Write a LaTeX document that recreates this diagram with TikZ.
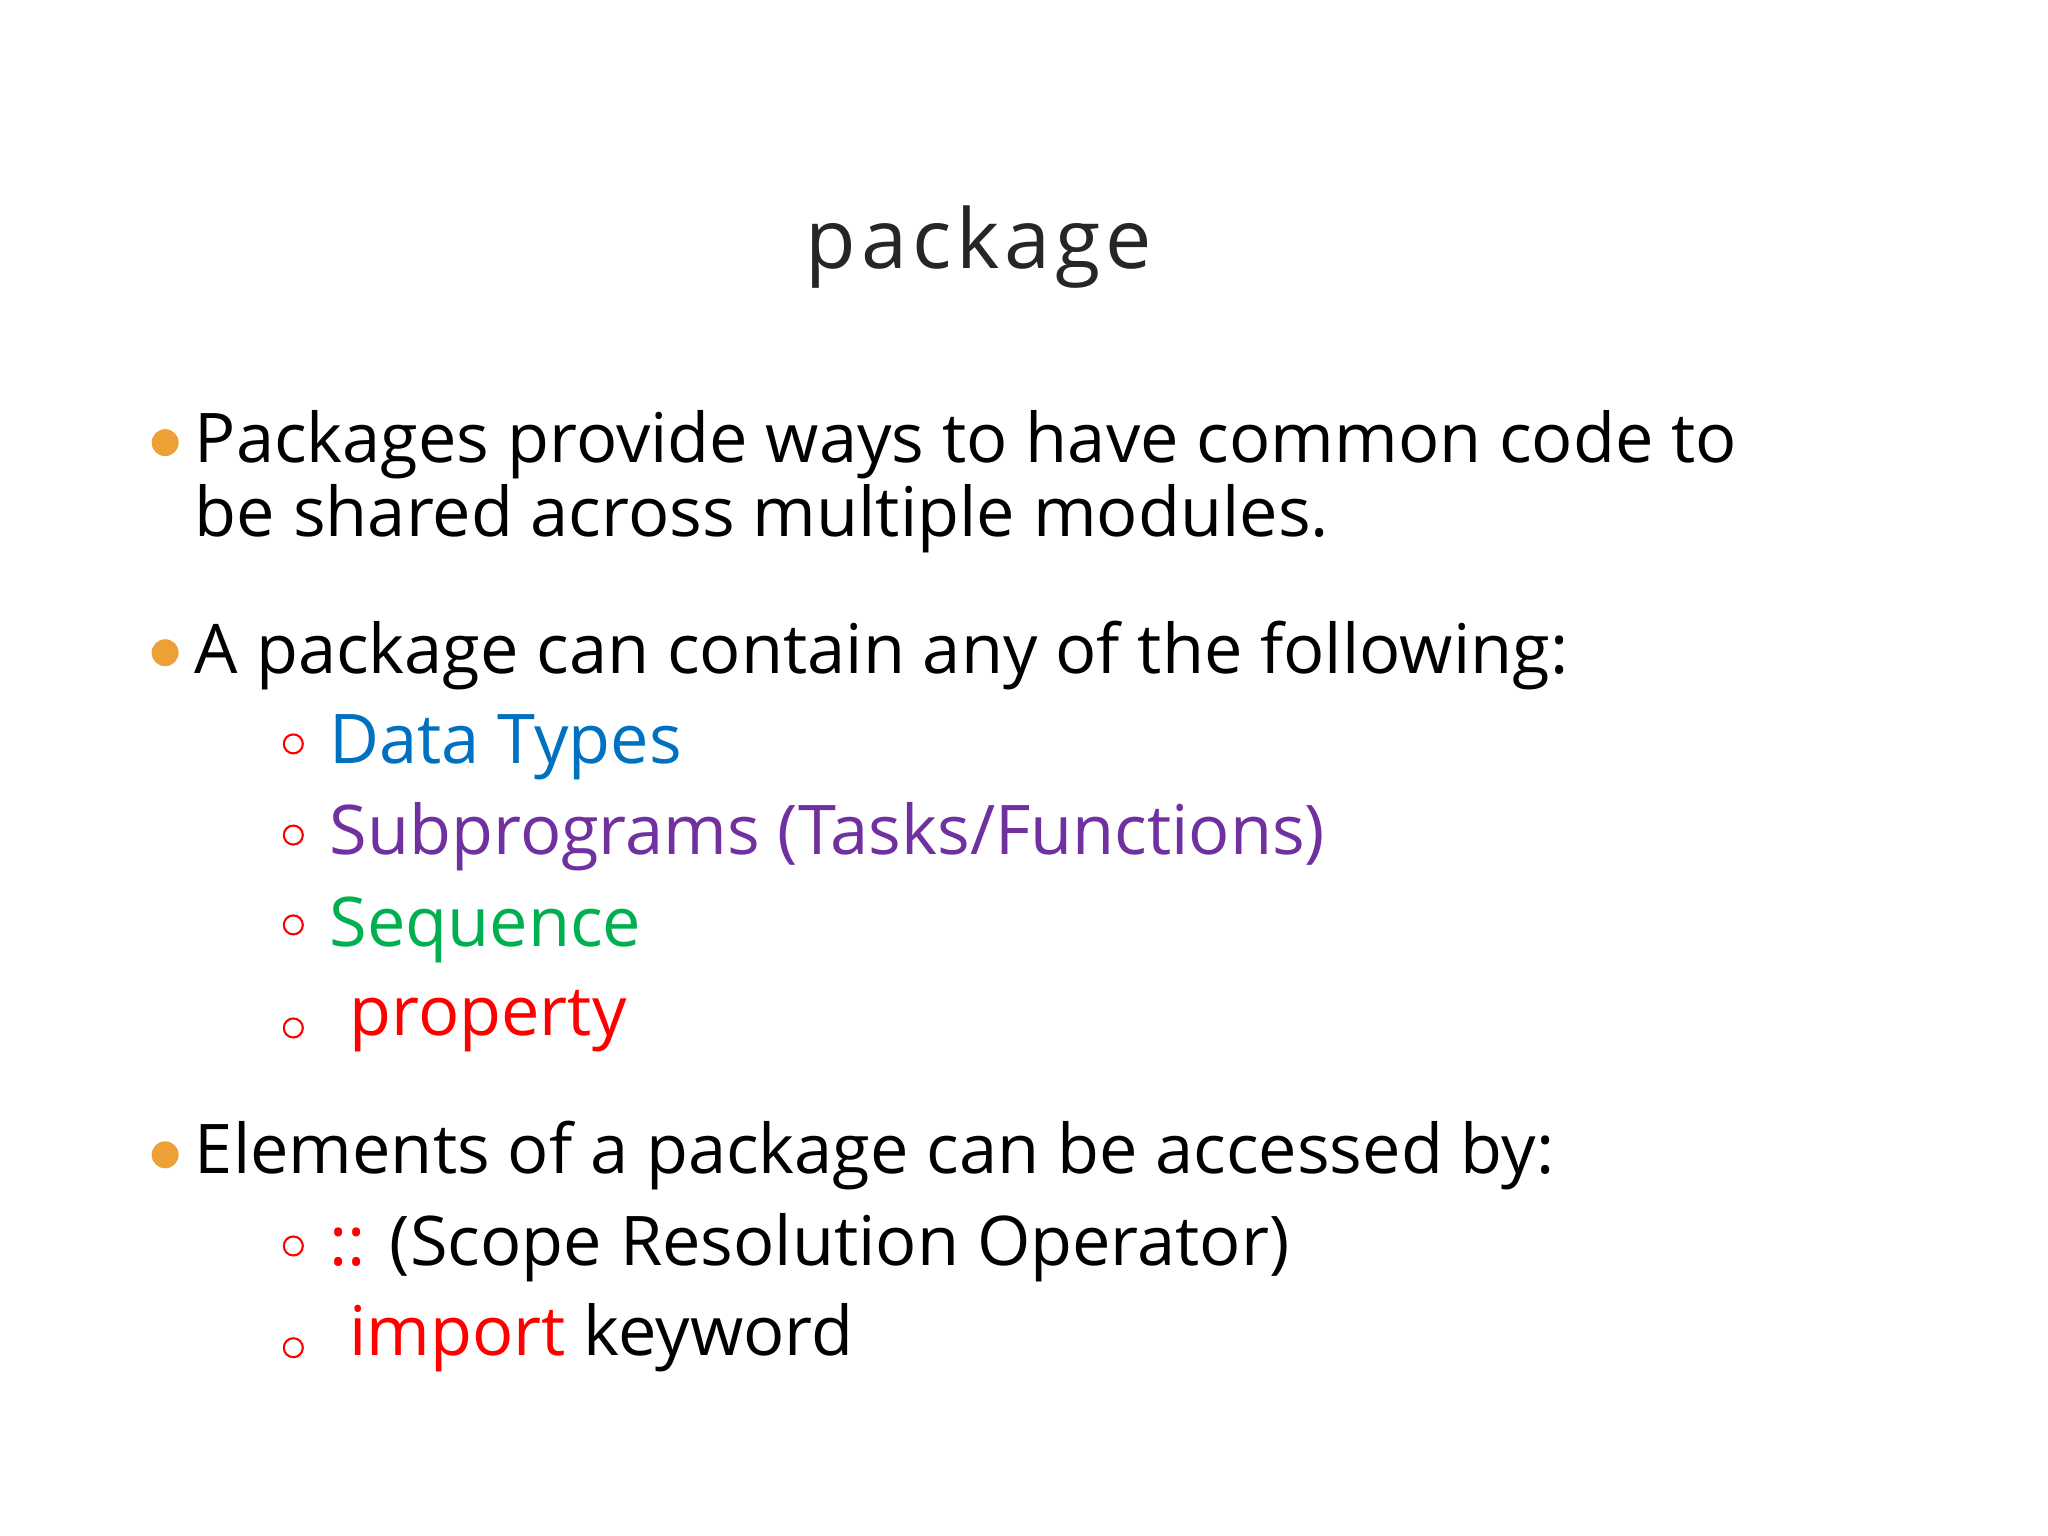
\documentclass[tikz,border=0pt]{standalone}
\usepackage{fontspec}
\setmainfont{Open Sans}
\newfontfamily\titlefont[LetterSpace=6]{Open Sans}
\definecolor{obul}{HTML}{EDA035}
\definecolor{cblue}{HTML}{0070C0}
\definecolor{cpurple}{HTML}{7030A0}
\definecolor{cgreen}{HTML}{00B050}
\definecolor{cred}{HTML}{FF0000}
\begin{document}
\begin{tikzpicture}[x=0.013213cm,y=-0.013213cm,
  txt/.style={anchor=base west,inner sep=0pt,font=\fontsize{19.5}{23}\selectfont},
  dot/.style={circle,fill=obul,inner sep=0pt,minimum size=0.27cm},
  ring/.style={circle,draw=cred,line width=0.6pt,inner sep=0pt,minimum size=0.19cm}]
\useasboundingbox (0,0) rectangle (1550,1162.5);
\node[anchor=base,inner sep=0pt,font=\titlefont\fontsize{23.5}{26}\selectfont,text=black!85] (title) at (741,203) {package};
\node[dot] (b1) at (125,335) {};
\node[txt] (t1) at (147,350) {Packages provide ways to have common code to};
\node[txt] (t2) at (147,406) {be shared across multiple modules.};
\node[dot] (b2) at (125,494) {};
\node[txt] (t3) at (147,510) {A package can contain any of the following:};
\node[ring] (r1) at (222,563) {};
\node[txt,text=cblue] (s1) at (249,578) {Data Types};
\node[ring] (r2) at (222,632) {};
\node[txt,text=cpurple] (s2) at (249,647) {Subprograms (Tasks/Functions)};
\node[ring] (r3) at (222,700) {};
\node[txt,text=cgreen] (s3) at (249,716) {Sequence};
\node[ring] (r4) at (222,778) {};
\node[txt,text=cred] (s4) at (264,784) {property};
\node[dot] (b3) at (125,874) {};
\node[txt] (t4) at (147,888) {Elements of a package can be accessed by:};
\node[ring] (r5) at (222,943) {};
\node[txt] (s5) at (249,958) {\textcolor{cred}{::} (Scope Resolution Operator)};
\node[ring] (r6) at (222,1020) {};
\node[txt] (s6) at (264,1026) {\textcolor{cred}{import} keyword};
\end{tikzpicture}
\end{document}
